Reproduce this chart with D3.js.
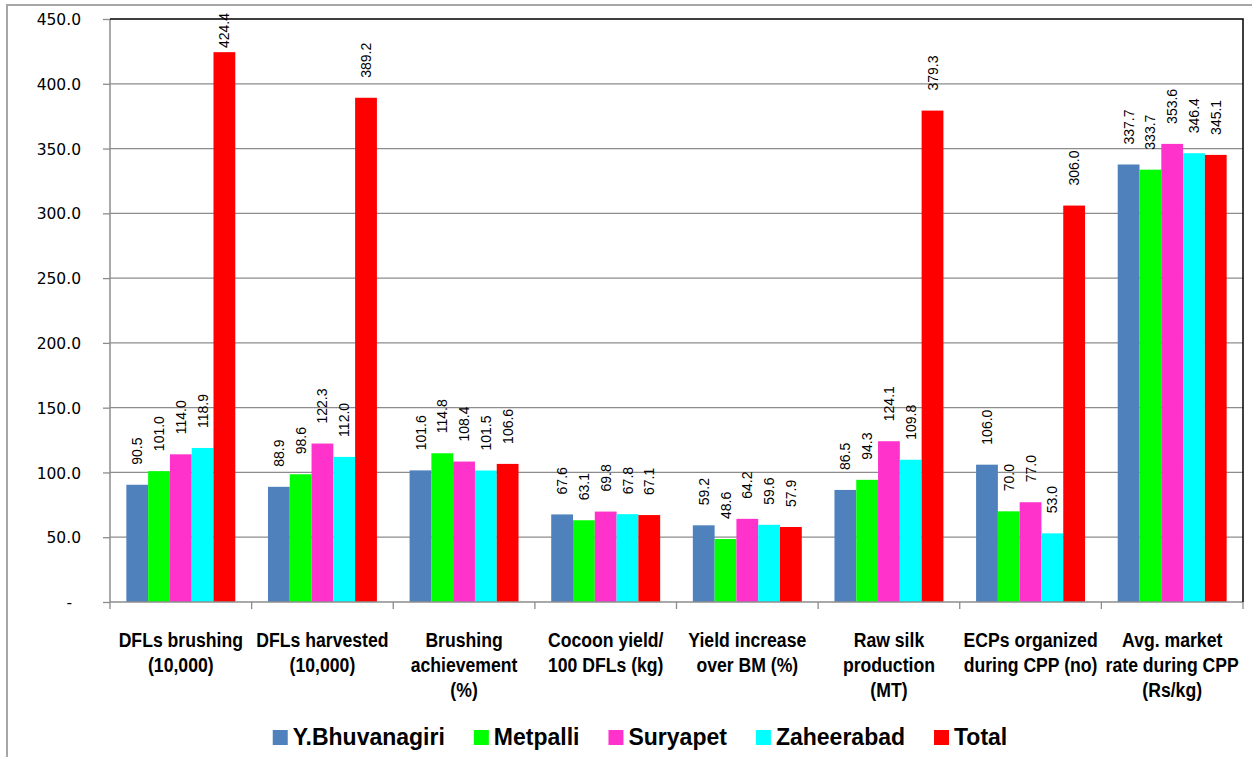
<!DOCTYPE html>
<html>
<head>
<meta charset="utf-8">
<script src="https://cdn.jsdelivr.net/npm/d3@7"></script>
<style>
  html, body { margin: 0; padding: 0; background: #fff; }
  svg { display: block; }
</style>
</head>
<body>
<svg id="chart" width="1252" height="757"></svg>
<script>
// ---- Data ----
const categories = [
  ["DFLs brushing", "(10,000)"],
  ["DFLs harvested", "(10,000)"],
  ["Brushing", "achievement", "(%)"],
  ["Cocoon yield/", "100 DFLs (kg)"],
  ["Yield increase", "over BM (%)"],
  ["Raw silk", "production", "(MT)"],
  ["ECPs organized", "during CPP (no)"],
  ["Avg. market", "rate during CPP", "(Rs/kg)"]
];
const seriesNames = ["Y.Bhuvanagiri", "Metpalli", "Suryapet", "Zaheerabad", "Total"];
const seriesColors = ["#4F81BD", "#00FF00", "#FF33CC", "#00FFFF", "#FF0000"];
const yBhuvanagiri = [90.5, 88.9, 101.6, 67.6, 59.2, 86.5, 106.0, 337.7];
const metpalli     = [101.0, 98.6, 114.8, 63.1, 48.6, 94.3, 70.0, 333.7];
const suryapet     = [114.0, 122.3, 108.4, 69.8, 64.2, 124.1, 77.0, 353.6];
const zaheerabad   = [118.9, 112.0, 101.5, 67.8, 59.6, 109.8, 53.0, 346.4];
const total        = [424.4, 389.2, 106.6, 67.1, 57.9, 379.3, 306.0, 345.1];
const yTicks = [0, 50, 100, 150, 200, 250, 300, 350, 400, 450];

const seriesValues = [yBhuvanagiri, metpalli, suryapet, zaheerabad, total];

// ---- Layout ----
const svg = d3.select("#chart");
const plot = { left: 110, right: 1243, top: 19, bottom: 602 };
const boldFont = "'Liberation Sans', Arial, sans-serif";

// outer chart border
svg.append("rect")
  .attr("x", 7).attr("y", 5).attr("width", 1270).attr("height", 780)
  .attr("fill", "none").attr("stroke", "#a6a6a6").attr("stroke-width", 2);

const y = d3.scaleLinear().domain([0, 450]).range([plot.bottom, plot.top]);
const x0 = d3.scaleBand().domain(d3.range(categories.length))
  .range([plot.left, plot.right]).paddingInner(0).paddingOuter(0);
const x1 = d3.scaleBand().domain(d3.range(seriesNames.length))
  .range([0, x0.bandwidth()]).paddingInner(0).paddingOuter(0.75);

// gridlines
svg.append("g").selectAll("line")
  .data(yTicks.filter(t => t > 0 && t < 450))
  .join("line")
  .attr("x1", plot.left).attr("x2", plot.right)
  .attr("y1", d => y(d)).attr("y2", d => y(d))
  .attr("stroke", "#8c8c8c").attr("stroke-width", 1.3);

// y axis
const yAxis = d3.axisLeft(y).tickValues(yTicks).tickSize(7).tickPadding(0)
  .tickFormat(d => d === 0 ? "" : d3.format(".1f")(d));
const gy = svg.append("g").attr("transform", `translate(${plot.left},0)`).call(yAxis);
gy.select(".domain").remove();
gy.selectAll(".tick line").attr("stroke", "#8c8c8c").attr("stroke-width", 1.3);
gy.selectAll(".tick text")
  .attr("x", -29)
  .attr("dy", "0.36em")
  .attr("fill", "#000")
  .style("font-family", "'DejaVu Sans', Verdana, sans-serif")
  .style("font-size", "15.5px");
// zero label as dash
svg.append("text")
  .attr("x", 72).attr("y", y(0)).attr("dy", "0.36em")
  .attr("text-anchor", "end")
  .style("font-family", "'DejaVu Sans', Verdana, sans-serif")
  .style("font-size", "15.5px")
  .text("-");

// left axis line
svg.append("line")
  .attr("x1", plot.left).attr("x2", plot.left)
  .attr("y1", plot.top).attr("y2", plot.bottom)
  .attr("stroke", "#8c8c8c").attr("stroke-width", 1.5);

// bars
const groups = svg.append("g").selectAll("g")
  .data(categories.map((c, i) => i))
  .join("g")
  .attr("transform", i => `translate(${x0(i)},0)`);

groups.selectAll("rect")
  .data(i => seriesValues.map((s, k) => ({ k, v: s[i] })))
  .join("rect")
  .attr("x", d => x1(d.k))
  .attr("width", x1.bandwidth())
  .attr("y", d => y(d.v))
  .attr("height", d => y(0) - y(d.v))
  .attr("fill", d => seriesColors[d.k]);

// value labels
groups.selectAll("text.val")
  .data(i => seriesValues.map((s, k) => ({ k, v: s[i] })))
  .join("text")
  .attr("class", "val")
  .style("font-family", "'Liberation Sans', Arial, sans-serif")
  .style("font-size", "14px")
  .attr("fill", "#000")
  .text(d => d3.format(".1f")(d.v))
  .each(function (d) {
    const len = this.getComputedTextLength();
    let start = y(d.v) - 20;
    if (start - len < 13) start = 13 + len;
    const cx = x1(d.k) + x1.bandwidth() / 2;
    d3.select(this)
      .attr("transform", `translate(${cx},${start}) rotate(-90)`)
      .attr("dy", "0.36em");
  });

// bottom axis line
svg.append("line")
  .attr("x1", plot.left).attr("x2", plot.right)
  .attr("y1", plot.bottom).attr("y2", plot.bottom)
  .attr("stroke", "#8c8c8c").attr("stroke-width", 1.5);

// plot border top & right (black)
svg.append("path")
  .attr("d", `M${plot.left},${plot.top}H${plot.right}V${plot.bottom}`)
  .attr("fill", "none").attr("stroke", "#000").attr("stroke-width", 1.5);

// category ticks
const boundaries = d3.range(categories.length + 1).map(i => plot.left + i * x0.step());
svg.append("g").selectAll("line")
  .data(boundaries)
  .join("line")
  .attr("x1", d => d).attr("x2", d => d)
  .attr("y1", plot.bottom).attr("y2", plot.bottom + 7)
  .attr("stroke", "#8c8c8c").attr("stroke-width", 1.3);

// category labels (condensed via horizontal scale)
const catG = svg.append("g");
categories.forEach((lines, i) => {
  const cx = x0(i) + x0.bandwidth() / 2;
  const t = catG.append("text")
    .attr("text-anchor", "middle")
    .attr("transform", `translate(${cx},0) scale(0.84,1)`)
    .style("font-family", boldFont)
    .style("font-weight", "bold")
    .style("font-size", "21px")
    .attr("fill", "#000");
  lines.forEach((ln, j) => {
    t.append("tspan")
      .attr("x", 0)
      .attr("y", 647 + j * 25)
      .text(ln);
  });
});

// legend
const legend = svg.append("g");
let cursor = 0;
seriesNames.forEach((name, k) => {
  const g = legend.append("g");
  g.append("rect")
    .attr("x", cursor).attr("y", 730)
    .attr("width", 15).attr("height", 15)
    .attr("fill", seriesColors[k]);
  const t = g.append("text")
    .attr("x", cursor + 20).attr("y", 745)
    .style("font-family", boldFont)
    .style("font-weight", "bold")
    .style("font-size", "23px")
    .attr("fill", "#000")
    .text(name);
  const w = t.node().getComputedTextLength();
  cursor += 20 + w + 29;
});
const legendWidth = cursor - 29;
legend.attr("transform", `translate(${640 - legendWidth / 2},0)`);
</script>
</body>
</html>
